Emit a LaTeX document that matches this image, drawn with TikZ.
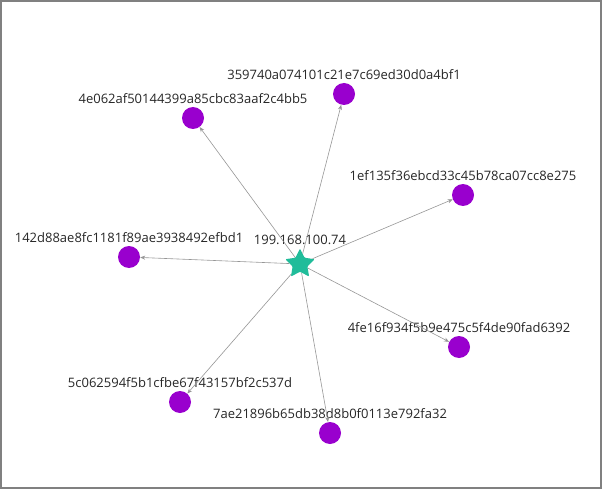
\documentclass[tikz,border=0pt]{standalone}
\usepackage{fontspec}
\setmainfont{Open Sans}
\usetikzlibrary{arrows.meta, shapes.geometric}

\definecolor{hostviolet}{RGB}{153,0,206}
\definecolor{hubteal}{RGB}{32,188,154}
\definecolor{framegray}{RGB}{128,128,128}
\definecolor{edgegray}{RGB}{150,150,150}

\begin{document}
\begin{tikzpicture}[
    x=1pt, y=-1pt,
    every edge/.style={draw, edgegray, line width=0.6pt, -{Stealth[length=5pt, width=4pt]}},
    host/.style={circle, fill=hostviolet, minimum size=22pt, inner sep=0pt},
    hub/.style={star, star points=5, star point ratio=2, fill=hubteal, minimum size=31pt, inner sep=0pt, rounded corners=1pt},
    hashlabel/.style={font=\fontsize{13}{15}\selectfont, text=black!85, text height=9pt, text depth=0pt, inner sep=0pt, label distance=3pt},
    frame/.style={draw=framegray, line width=2pt}
  ]

  \useasboundingbox (0,0) rectangle (602,489);
  \draw[frame] (1,1) rectangle (601,488);

  \node[hub, label={[hashlabel]above:199.168.100.74}] (hub) at (300,264) {};

  \node[host, label={[hashlabel]above:4e062af50144399a85cbc83aaf2c4bb5}] (h4e) at (193,118) {};
  \node[host, label={[hashlabel]above:359740a074101c21e7c69ed30d0a4bf1}] (h35) at (344,94) {};
  \node[host, label={[hashlabel]above:1ef135f36ebcd33c45b78ca07cc8e275}] (h1e) at (463,195) {};
  \node[host, label={[hashlabel]above:142d88ae8fc1181f89ae3938492efbd1}] (h14) at (129,257) {};
  \node[host, label={[hashlabel]above:4fe16f934f5b9e475c5f4de90fad6392}] (h4f) at (459,347) {};
  \node[host, label={[hashlabel]above:5c062594f5b1cfbe67f43157bf2c537d}] (h5c) at (180,402) {};
  \node[host, label={[hashlabel]above:7ae21896b65db38d8b0f0113e792fa32}] (h7a) at (330,433) {};

  \path
    (hub) edge (h4e)
    (hub) edge (h35)
    (hub) edge (h1e)
    (hub) edge (h14)
    (hub) edge (h4f)
    (hub) edge (h5c)
    (hub) edge (h7a)
  ;
\end{tikzpicture}
\end{document}
